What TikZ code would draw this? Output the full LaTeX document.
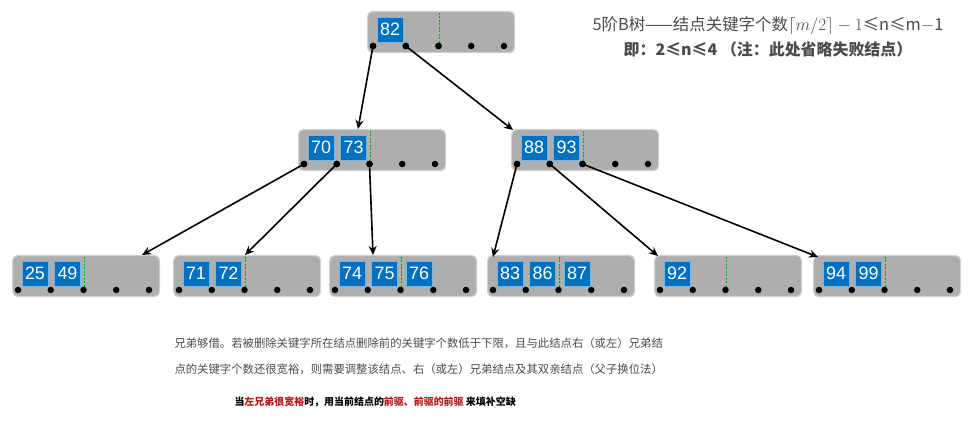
\documentclass[tikz,border=0pt]{standalone}
\usepackage{fontspec}
\setmainfont{Noto Sans CJK SC}
\newfontfamily\keyfont{Liberation Sans}
\usetikzlibrary{arrows.meta,calc}
\definecolor{nodegray}{RGB}{174,174,174}
\definecolor{nodeedge}{RGB}{208,208,208}
\definecolor{keyblue}{RGB}{0,112,192}
\definecolor{keyedge}{RGB}{120,180,225}
\definecolor{txtgray}{RGB}{75,75,75}
\definecolor{darkred}{RGB}{178,24,24}
\definecolor{ptrgreen}{RGB}{0,175,0}
\tikzset{
 bbox/.style={draw=nodeedge, line width=1.2bp, fill=nodegray, rounded corners=5bp, minimum width=147bp, minimum height=41bp, inner sep=0pt, anchor=north west},
 keybox/.style={fill=keyblue, draw=keyedge, line width=0.6bp, minimum width=26bp, minimum height=25bp, inner sep=0pt, text=white, font=\keyfont\fontsize{18}{18}\selectfont},
 ptr/.style={circle, fill=black, inner sep=0pt, minimum size=6.5bp},
 gline/.style={draw=ptrgreen, line width=1.8bp, dash pattern=on 2bp off 1.5bp},
 link/.style={draw=black, line width=1.6bp, -{Stealth[length=9bp,width=8bp]}},
}
\newcommand{\btreenode}[4]{%
 \node[bbox] (#1) at (#2,#3) {};
 \foreach \s/\v in {#4} {
   \pgfmathsetmacro{\kx}{#2 + (\s==1 ? 23 : (\s==2 ? 55.5 : 90))}
   \node[keybox] (#1k\s) at (\kx, #3+18.5) {\v};
 }
 \draw[gline] (#2+72.5, #3+2) -- (#2+72.5, #3+33);
 \foreach \i in {1,...,5} {
   \node[ptr] (#1d\i) at ({#2+6+(\i-1)*32.75}, #3+35) {};
 }
}
\begin{document}
\begin{tikzpicture}[x=1bp,y=-1bp]
\useasboundingbox (0,0) rectangle (968,433);
\fill[white] (0,0) rectangle (968,433);

\btreenode{R}{367}{11}{1/82}
\btreenode{A}{298}{129}{1/70,2/73}
\btreenode{B}{511}{129}{1/88,2/93}
\btreenode{C1}{12}{255}{1/25,2/49}
\btreenode{C2}{173}{255}{1/71,2/72}
\btreenode{C3}{329}{255}{1/74,2/75,3/76}
\btreenode{C4}{487}{255}{1/83,2/86,3/87}
\btreenode{C5}{654}{255}{1/92}
\btreenode{C6}{813}{255}{1/94,2/99}

\draw[link] (Rd1.center) -- ([xshift=60bp]A.north west);
\draw[link] (Rd2.center) -- ([xshift=2bp,yshift=-1bp]B.north west);
\draw[link] (Ad1.center) -- ([xshift=130bp]C1.north west);
\draw[link] (Ad2.center) -- ([xshift=72bp]C2.north west);
\draw[link] (Ad3.center) -- ([xshift=44bp]C3.north west);
\draw[link] (Bd1.center) -- ([xshift=6bp,yshift=-2bp]C4.north west);
\draw[link] (Bd2.center) -- ([xshift=4bp,yshift=-1bp]C5.north west);
\draw[link] (Bd3.center) -- ([xshift=5bp,yshift=-2bp]C6.north west);
\foreach \n in {R,A,B} {\foreach \i in {1,2,3} {\node[ptr] at (\n d\i) {};}}

\node[text=txtgray, font=\fontsize{16.5}{16.5}\selectfont] (t1) at (768,26) {5阶B树——结点关键字个数$\lceil m/2\rceil - 1$≤n≤m$-$1};
\node[text=txtgray, font=\bfseries\fontsize{16}{16}\selectfont] (t2) at (768,49) {即：2≤n≤4 （注：此处省略失败结点）};

\node[anchor=west, text=txtgray, font=\fontsize{11.4}{11.4}\selectfont] (p1) at (171,343) {兄弟够借。若被删除关键字所在结点删除前的关键字个数低于下限，且与此结点右（或左）兄弟结};
\node[anchor=west, text=txtgray, font=\fontsize{11.4}{11.4}\selectfont] (p2) at (171,369) {点的关键字个数还很宽裕，则需要调整该结点、右（或左）兄弟结点及其双亲结点（父子换位法）};
\node[anchor=west, text=black, font=\bfseries\fontsize{10}{10}\selectfont] (p3) at (231,402) {当\textcolor{darkred}{左兄弟很宽裕}时，用当前结点的\textcolor{darkred}{前驱、前驱的前驱} 来填补空缺};
\end{tikzpicture}
\end{document}
